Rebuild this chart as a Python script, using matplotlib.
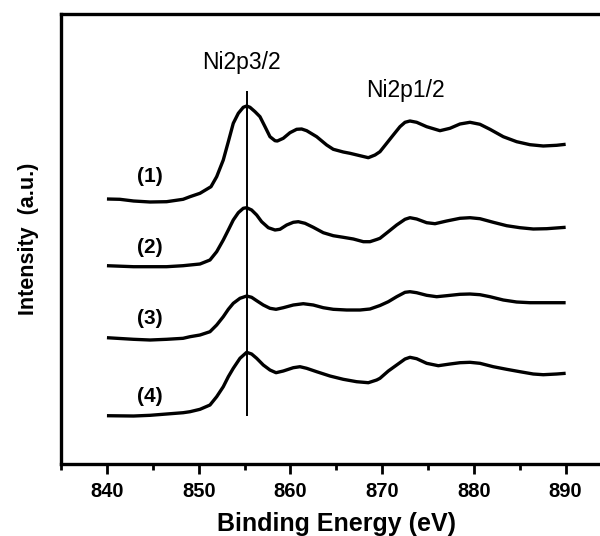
import numpy as np
import matplotlib
matplotlib.use("Agg")
import matplotlib.pyplot as plt
from matplotlib.ticker import MultipleLocator

plt.rcParams['font.family'] = ['Liberation Sans', 'DejaVu Sans']

# binding energy (eV) and stacked intensity (a.u.) for the four samples
energy1 = [840, 841.4, 842.9, 844.7, 846.5, 848.3, 849.05, 850.14, 851.34, 851.96, 852.68, 853.23,
           853.77, 854.32, 854.86, 855.23, 855.59, 856.14, 856.68, 857.23, 857.77, 858.32, 858.57,
           859.22, 859.95, 860.68, 861.22, 861.77, 862.86, 863.95, 864.67, 865.76, 866.49, 867.58,
           868.49, 869.22, 869.76, 870.49, 871.21, 871.94, 872.49, 873.03, 873.76, 874.85, 876.3,
           877.39, 878.48, 879.57, 880.66, 881.75, 883.2, 884.66, 886.11, 887.56, 889.02, 890]
intensity1 = [265, 264.7, 263, 262, 262.3, 264.7, 267.3, 270.7, 277.3, 287.3, 304, 322.3,
              340.7, 350.7, 356.7, 358, 356.7, 352.3, 347.3, 337.3, 327.3, 323.3, 323,
              325.7, 331.3, 334.7, 335, 333.3, 327.3, 319, 314.7, 312, 310.7, 308.3,
              306.3, 309, 312.3, 320.7, 329, 337.3, 341.7, 343, 341.7, 337.3, 333.3,
              335.7, 340, 341.7, 339.7, 334.7, 327.3, 322.3, 319.3, 318, 318.7, 319.7]

energy2 = [840, 842.9, 844.7, 846.5, 848.3, 849.05, 850.14, 851.23, 851.96, 852.68, 853.23, 853.77,
           854.32, 854.86, 855.23, 855.77, 856.32, 856.86, 857.59, 858.32, 858.86, 859.59, 860.31,
           860.86, 861.59, 862.49, 863.58, 864.67, 865.76, 866.86, 867.95, 868.67, 869.4, 869.76,
           870.67, 871.58, 872.49, 873.03, 873.76, 874.85, 875.76, 877.03, 878.48, 879.57, 880.66,
           882.11, 883.57, 885.02, 886.47, 887.93, 890]
intensity2 = [198.3, 197.3, 197.3, 197.3, 198.3, 199, 200, 204, 212.3, 224, 234, 244,
              251.3, 255.7, 256.3, 254, 249, 242.3, 236.3, 234, 234.7, 239, 241.7,
              242.3, 240.7, 236.7, 231.3, 228.3, 226.7, 225, 222.3, 222.3, 224.5, 225.7,
              232.3, 239, 244.7, 246.3, 245, 241.3, 240.3, 243, 245.7, 246.3, 245.3,
              241.7, 238.3, 236.3, 235, 235.3, 236.7]

energy3 = [840, 842.9, 844.7, 846.5, 848.3, 849.05, 850.14, 851.23, 851.96, 852.68, 853.23, 853.77,
           854.5, 855.23, 855.77, 856.32, 857.04, 857.77, 858.43, 859.22, 860.31, 861.4, 862.49,
           863.58, 864.67, 866.13, 867.58, 868.67, 869.76, 870.67, 871.58, 872.49, 873.03, 873.76,
           874.85, 875.94, 877.03, 878.48, 879.57, 880.66, 881.75, 883.2, 884.66, 886.11, 887.93, 890]
intensity3 = [126.3, 124.7, 124, 124.7, 125.7, 127.3, 129, 132.3, 139, 147.3, 154.7, 160.7,
              165.7, 168, 166.7, 163.3, 159, 155.7, 154.7, 156.3, 159, 160.3, 159,
              156.3, 154.7, 154, 154, 155, 158.5, 162.3, 167.3, 171.7, 172.3, 171.3,
              168.7, 167.3, 168.3, 169.7, 170, 169.3, 167.3, 164, 162, 161.3, 161.3, 161.3]

energy4 = [840, 842.9, 844.7, 846.5, 848.3, 849.05, 850.14, 851.23, 851.96, 852.68, 853.23, 853.77,
           854.5, 855.23, 855.77, 856.32, 857.04, 857.77, 858.43, 859.22, 860.31, 861.04, 861.77,
           862.86, 864.31, 865.76, 867.22, 868.49, 869.4, 869.76, 870.67, 871.58, 872.49, 873.03,
           873.76, 874.85, 876.12, 877.39, 878.48, 879.57, 880.66, 882.11, 883.57, 885.02, 886.47,
           887.56, 889.02, 890]
intensity4 = [48.3, 48, 48.7, 50, 51.3, 52.3, 54.7, 59, 67.3, 77.3, 87.3, 95.7,
              105.7, 111.7, 110, 105.7, 99, 94, 91.3, 93, 96.3, 97.3, 95.7,
              92.3, 88, 84.7, 82.3, 81.3, 84, 85.7, 93, 99, 105, 106.7,
              105.3, 100.7, 98.3, 100, 101.3, 101.7, 100.7, 97.3, 94.7, 92.3, 90,
              89.3, 90, 90.7]

series = [(energy1, intensity1), (energy2, intensity2), (energy3, intensity3), (energy4, intensity4)]
labels = ['(1)', '(2)', '(3)', '(4)']
label_y = [287, 217, 146, 68]

ni_3_2 = 855.3

fig = plt.figure(figsize=(6, 5.36), dpi=100)
ax = fig.add_axes([0.1018, 0.1343, 0.9174, 0.8396])

for (e, inten) in series:
    ax.plot(e, inten, color='black', lw=2.4, solid_joinstyle='round', solid_capstyle='butt')

for lab, yl in zip(labels, label_y):
    ax.text(844.7, yl, lab, ha='center', va='center', fontsize=15, fontweight='bold')

ax.vlines(ni_3_2, 48, 373, color='black', lw=1.4)
ax.text(854.7, 401, 'Ni2p3/2', ha='center', va='center', fontsize=16.5)
ax.text(872.5, 373, 'Ni2p1/2', ha='center', va='center', fontsize=16.5)

ax.set_xlim(835, 895)
ax.set_ylim(0, 450)
ax.xaxis.set_major_locator(MultipleLocator(10))
ax.xaxis.set_minor_locator(MultipleLocator(5))
ax.set_xticks([840, 850, 860, 870, 880, 890])
ax.set_yticks([])
ax.tick_params(axis='x', which='major', direction='out', length=7, width=2, labelsize=14.5, pad=6)
ax.tick_params(axis='x', which='minor', direction='out', length=4, width=2)
for lab in ax.get_xticklabels():
    lab.set_fontweight('bold')

for sp in ax.spines.values():
    sp.set_linewidth(2.4)

ax.set_xlabel('Binding Energy (eV)', fontsize=18, fontweight='bold', labelpad=8)
ax.set_ylabel('Intensity  (a.u.)', fontsize=15.5, fontweight='bold', labelpad=16)

fig.savefig('out.png', dpi=100)
